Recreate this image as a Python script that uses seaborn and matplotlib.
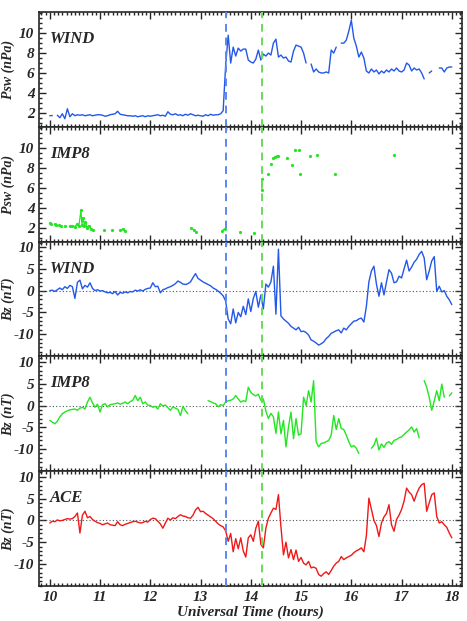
import numpy as np
import pandas as pd
import seaborn as sns
import matplotlib.pyplot as plt
from matplotlib.ticker import MultipleLocator

nan = np.nan

# 3-min time grid, 10 UT .. 18 UT
hours = np.round(10 + 0.05 * np.arange(161), 2)

# WIND dynamic pressure (nPa), one row per hour
wind_psw = (
    [1.7, 1.72, nan, 1.75, 1.5, 1.9, 1.4, 2.4, 1.6, 1.9, 1.7, 1.8, 1.75, 1.8, 1.7, 1.75, 1.8, 1.7, 1.75, 1.8]
    + [1.8, 1.75, 1.65, 1.7, 1.8, 1.85, 1.9, 2.15, 1.85, 1.8, 1.75, 1.7, 1.7, 1.65, 1.7, 1.6, 1.65, 1.7, 1.6, 1.7]
    + [1.65, 1.7, 1.75, 1.8, 1.7, 1.75, 1.65, 2.1, 1.85, 1.8, 1.9, 1.75, 1.8, 1.7, 1.85, 1.75, 1.9, 1.8, 1.7, 1.75]
    + [1.7, 1.65, 1.8, 1.7, 1.85, 1.75, 1.8, 1.8, 1.9, 2.2, 6.8, 9.8, 7.0, 8.6, 7.7, 8.5, 8.2, 8.4, 8.4, 7.3]
    + [7.1, 7.0, 7.4, 8.3, 7.3, 7.9, 7.7, 8.0, 7.8, 9.0, 9.4, 7.6, 7.8, 7.5, 7.6, 7.2, 7.1, 8.2, 8.8, 8.7]
    + [8.6, 8.0, 7.0, nan, 6.9, 6.1, 6.4, 6.1, 6.0, 6.0, 6.1, 6.0, 8.3, 8.0, 8.6, nan, 9.0, 9.0, 9.3, 10.2]
    + [11.3, 9.5, 8.7, 7.6, 8.1, 7.5, 6.2, 6.0, 6.4, 6.1, 6.3, 5.9, 6.2, 6.0, 6.3, 6.1, 6.4, 6.2, 6.5, 6.2]
    + [6.1, 6.3, 7.0, 6.8, 6.2, 6.5, 6.3, 6.4, 6.0, 5.4, nan, 6.0, 6.2, nan, nan, 6.5, 6.5, 6.1, 6.5, 6.6, 6.6]
)

# IMP8 dynamic pressure is sparse, keep its own times
imp8_psw_t = [10.00, 10.03, nan, 10.10, 10.13, nan, 10.19, 10.23, nan, 10.30, nan,
              10.40, 10.45, 10.50, 10.55, 10.58, 10.62, 10.64, 10.66, 10.69, 10.71, 10.74, 10.78, 10.82, 10.86, nan,
              11.07, nan, 11.24, nan, 11.40, 11.45, 11.50, nan,
              12.82, 12.86, nan, 12.90, nan, 13.43, 13.48, nan, 13.79, nan, 14.06, nan,
              14.22, 14.23, nan, 14.35, nan, 14.40, nan, 14.45, 14.48, 14.52, 14.55, nan,
              14.72, nan, 14.82, nan, 14.87, nan, 14.95, nan, 14.98, nan,
              15.18, nan, 15.31, nan, 15.68, nan, 16.84]
imp8_psw = [2.45, 2.40, nan, 2.35, 2.30, nan, 2.25, 2.20, nan, 2.2, nan,
            2.15, 2.2, 2.1, 2.4, 2.2, 3.75, 2.3, 3.0, 2.2, 2.6, 2.0, 2.2, 1.85, 1.8, nan,
            1.8, nan, 1.75, nan, 1.75, 1.85, 1.7, nan,
            1.95, 1.8, nan, 1.6, nan, 1.7, 1.9, nan, 1.6, nan, 1.5, nan,
            5.8, 6.9, nan, 7.4, nan, 8.4, nan, 9.0, 9.1, 9.2, 9.2, nan,
            9.0, nan, 8.3, nan, 9.8, nan, 9.8, nan, 7.4, nan,
            9.2, nan, 9.3, nan, 7.4, nan, 9.3]

# Bz (nT)
wind_bz = (
    [0.0, 0.1, -0.2, 0.2, 0.6, 0.2, 0.9, 0.5, 1.2, 0.9, -1.8, 1.9, 2.4, 0.4, 1.2, 0.8, 1.8, 0.5, 0.0, 0.2]
    + [-0.1, 0.0, -0.3, -0.5, -0.4, -0.7, -0.2, -1.0, -0.4, -0.6, -0.3, -0.5, -0.2, -0.3, 0.1, -0.1, 0.2, -0.1, 0.3, 0.5]
    + [0.6, 1.8, 0.9, 1.0, -0.5, 0.2, 0.4, 0.7, 0.9, 1.2, 1.6, 2.2, 1.9, 1.5, 1.4, 1.6, 2.0, 3.0, 3.9, 2.8]
    + [2.4, 2.0, 1.7, 1.4, 1.1, 0.6, 0.3, -0.1, -0.6, -1.2, -2.4, -6.5, -7.6, -4.2, -7.4, -5.0, -6.0, -3.6, -5.5, -1.9]
    + [-4.8, -1.8, -0.2, -3.8, -1.0, -4.2, 1.5, 0.8, 2.0, 5.6, -5.4, 9.5, -5.8, -6.5, -7.0, -7.5, -8.2, -8.6, -9.0, -8.4]
    + [-9.4, -9.3, -9.6, -10.2, -11.3, -11.6, -12.0, -12.5, -12.2, -11.8, -11.0, -10.5, -9.8, -9.5, -9.2, -9.0, -9.7, -8.6, -9.0, -8.2]
    + [-7.6, -7.0, -6.9, -6.5, -6.3, -7.2, -3.6, 2.0, 4.5, 5.6, 1.5, -1.3, 1.8, -1.0, 2.0, 4.8, 4.0, 1.8, 2.0, 3.3]
    + [2.9, 5.0, 7.0, 4.5, 5.4, 6.5, 7.2, 8.3, 9.0, 7.5, 2.5, 4.5, 6.8, 7.8, -0.2, 1.0, -0.3, 0.0, -1.3, -2.1, -3.2]
)

imp8_bz = (
    [-3.4, -3.8, -4.2, -3.6, -2.6, -1.9, -1.5, -1.2, -1.0, -0.9, -0.8, -1.1, -0.6, -0.4, -0.8, 0.8, 1.9, 0.6, -0.4, 0.3]
    + [-1.5, 0.2, 0.4, -0.3, 0.2, 0.3, 0.4, 0.6, 0.3, 0.5, 0.8, 0.4, 0.9, 1.2, 2.3, 1.1, 1.9, 0.4, 0.8, 0.1]
    + [0.0, -0.4, -0.2, -0.8, 0.4, -0.1, 0.1, -0.5, -1.1, -0.3, -0.6, -0.9, -2.3, -0.2, -1.2, -1.9, nan, nan, nan, nan]
    + [nan, nan, nan, 1.1, 0.9, 0.6, 0.4, -0.3, 0.2, 0.0, 0.8, 1.1, 1.2, 1.5, 2.3, 1.5, 0.8, 1.1, 0.9, 4.2]
    + [3.0, 2.5, 2.2, 2.6, 1.2, 1.5, -1.3, -3.0, -1.8, -2.6, -6.4, -1.5, -6.5, -3.4, -9.5, -4.9, -1.5, -7.6, -3.0, -6.8]
    + [-6.5, 1.9, 0.0, 3.4, 0.8, 5.7, -8.3, -9.5, -8.7, -8.6, -8.3, -8.0, -6.8, -2.3, -5.5, -3.0, -5.3, -5.5, -6.8, -8.3]
    + [-9.5, -9.2, -9.8, -11.0, nan, nan, nan, nan, -9.8, -9.1, -7.5, -10.2, -8.8, -9.6, -8.6, -8.3, -8.9, -8.0, -7.8, -7.4]
    + [-7.2, -6.6, -6.1, -5.6, -4.9, -6.1, -5.3, -7.4, nan, 5.7, 4.2, 1.9, -1.1, 1.0, 3.4, 1.1, 4.9, 1.9, nan, 2.2, 2.9]
)

ace_bz = (
    [-0.6, -0.2, -0.3, 0.1, -0.1, 0.0, 0.2, 0.4, 0.3, 0.4, 0.9, 1.7, -2.9, 1.2, 2.1, 0.6, 0.9, 0.2, -0.2, -0.5]
    + [-0.7, -1.0, -0.8, -0.6, -1.0, -1.1, -1.2, -0.3, -1.0, -1.2, -0.9, -0.7, -0.5, -0.3, -0.2, -0.4, -0.6, -0.5, -0.2, -0.4]
    + [0.2, 0.5, 0.4, -0.2, -0.8, -1.8, -0.6, 0.5, 0.1, 0.6, 0.4, 0.9, 1.3, 1.0, 0.9, 0.6, 0.5, 1.2, 2.4, 3.0]
    + [2.0, 2.1, 1.6, 1.2, 0.8, 0.4, -0.2, -0.8, -1.2, -1.5, -2.4, -4.8, -3.0, -7.2, -4.2, -6.5, -4.0, -7.0, -8.4, -4.0]
    + [-3.3, -4.8, -1.8, -0.2, -5.5, -6.3, -1.8, 0.5, 1.7, 2.8, 2.5, 5.9, -1.5, -7.9, -5.0, -8.6, -6.7, -9.0, -6.8, -9.4]
    + [-8.5, -9.8, -10.2, -9.4, -10.9, -10.7, -11.0, -12.4, -12.8, -12.2, -11.8, -12.4, -11.5, -10.5, -9.8, -9.4, -8.3, -9.0, -8.6, -8.3]
    + [-8.0, -7.4, -7.0, -6.7, -6.3, -7.2, -3.5, 5.1, 2.5, 0.0, -1.2, -3.7, -0.6, 0.8, 1.6, 3.6, -1.0, -2.5, 0.2, 1.2]
    + [2.5, 4.4, 7.4, 6.5, 5.9, 4.4, 6.1, 7.4, 8.2, 8.5, 2.1, 4.0, 5.9, 6.3, 0.9, -0.6, -0.3, -1.0, -1.6, -2.9, -4.0]
)

# shock arrival times at WIND and IMP8
t_wind = 13.50
t_imp8 = 14.23

BLUE = '#2358e8'
GREEN = '#22e622'
RED = '#f01818'


def segments(t, v):
    # split the series at gaps so each piece is its own line
    df = pd.DataFrame({'t': t, 'v': v})
    df['seg'] = df['v'].isna().cumsum()
    return df.dropna()


sns.set_style('ticks')
plt.rcParams['font.family'] = ['Liberation Serif', 'DejaVu Serif']
plt.rcParams['font.weight'] = 'bold'
plt.rcParams['font.style'] = 'italic'
plt.rcParams['axes.linewidth'] = 1.2
plt.rcParams['axes.unicode_minus'] = False

panels = [
    ('WIND', hours, wind_psw, BLUE, 'psw'),
    ('IMP8', imp8_psw_t, imp8_psw, GREEN, 'psw'),
    ('WIND', hours, wind_bz, BLUE, 'bz'),
    ('IMP8', hours, imp8_bz, GREEN, 'bz'),
    ('ACE', hours, ace_bz, RED, 'bz'),
]

fig, axes = plt.subplots(5, 1, figsize=(4.67, 6.21), dpi=100, sharex=True)
fig.subplots_adjust(left=0.084, right=0.989, top=0.981, bottom=0.056, hspace=0)

for ax, (name, t, v, col, kind) in zip(axes, panels):
    df = segments(t, v)
    if name == 'IMP8' and kind == 'psw':
        sns.lineplot(data=df, x='t', y='v', units='seg', estimator=None, sort=False,
                     color=col, lw=0.9, marker='o', markersize=2.3, mec='none', ax=ax)
    else:
        sns.lineplot(data=df, x='t', y='v', units='seg', estimator=None, sort=False,
                     color=col, lw=1.0, ax=ax)

    if kind == 'psw':
        ax.set_ylim(0.6, 12.15)
        ax.set_yticks([2, 4, 6, 8, 10])
        ax.yaxis.set_minor_locator(MultipleLocator(0.5))
        ax.set_ylabel('Psw (nPa)', fontsize=10, fontweight='bold', fontstyle='italic')
    else:
        ax.set_ylim(-15.1, 11.25)
        ax.set_yticks([-10, -5, 0, 5, 10])
        ax.yaxis.set_minor_locator(MultipleLocator(1))
        ax.axhline(0, color='#555555', lw=0.8, ls=(0, (1, 2)), zorder=1)
        ax.set_ylabel('Bz (nT)', fontsize=10, fontweight='bold', fontstyle='italic')
    ax.yaxis.set_label_coords(-0.057, 0.5)

    ax.axvline(t_wind, color='#5a88ee', lw=1.4, ls=(0, (4, 3)), zorder=3)
    ax.axvline(t_imp8, color='#66dd55', lw=1.4, ls=(0, (4, 3)), zorder=3)

    ax.text(0.026, 0.765, name, transform=ax.transAxes, fontsize=12,
            fontweight='bold', fontstyle='italic', va='center', ha='left')

    ax.set_xlim(9.79, 18.2)
    ax.xaxis.set_major_locator(MultipleLocator(1))
    ax.xaxis.set_minor_locator(MultipleLocator(1 / 12))
    ax.tick_params(which='both', direction='in', top=True, right=True, width=1, labelsize=11)
    ax.tick_params(which='major', length=5)
    ax.tick_params(which='minor', length=2.5)
    ax.set_xlabel('')
    for lab in ax.get_xticklabels() + ax.get_yticklabels():
        lab.set_fontweight('bold')
        lab.set_fontstyle('italic')

axes[-1].set_xlabel('Universal Time (hours)', fontsize=11, labelpad=1,
                    fontweight='bold', fontstyle='italic')

fig.savefig('out.png', dpi=100)
